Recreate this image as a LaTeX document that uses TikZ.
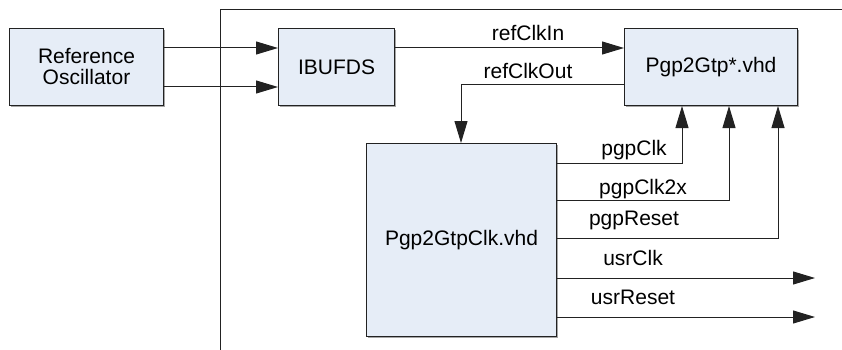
\documentclass[tikz,border=0pt]{standalone}
\usepackage{fontspec}
\setmainfont{Liberation Sans}
\usetikzlibrary{arrows.meta}
\definecolor{boxfill}{HTML}{E6EDF7}
\definecolor{lin}{HTML}{222222}
\begin{document}
\begin{tikzpicture}[x=1pt,y=-1pt,
  blk/.style={draw=lin, fill=boxfill, line width=1pt, inner sep=0pt, anchor=north west,
    font=\fontsize{21}{24}\selectfont, align=center},
  shad/.style={fill=gray!70},
  wire/.style={draw=lin, line width=1pt},
  arr/.style={wire, -{Triangle[length=22pt,width=13pt]}},
  lbl/.style={font=\fontsize{21}{24}\selectfont, inner sep=0pt}]
\useasboundingbox (0,0) rectangle (842,350);
% frame
\draw[wire] (220,350) -- (220,9.5) -- (842,9.5);
% shadows
\fill[shad] (11,30) rectangle (165,107);
\fill[shad] (280,30) rectangle (396,107);
\fill[shad] (626,30) rectangle (799,107);
\fill[shad] (368,145) rectangle (558,338);
% boxes
\node[blk, minimum width=154pt, minimum height=77pt] (osc) at (9,28) {Reference\\[-3pt]Oscillator};
\node[blk, minimum width=116pt, minimum height=77pt] (ibuf) at (278,28) {IBUFDS};
\node[blk, minimum width=173pt, minimum height=77pt] (gtp) at (624,28) {Pgp2Gtp*.vhd};
\node[blk, minimum width=190pt, minimum height=193pt] (clk) at (366,143) {Pgp2GtpClk.vhd};
% osc to ibufds
\draw[arr] (osc.east |- 0,48) -- (ibuf.west |- 0,48);
\draw[arr] (osc.east |- 0,87) -- (ibuf.west |- 0,87);
% refClkIn
\draw[arr] (ibuf.east |- 0,48) -- (gtp.west |- 0,48);
\node[lbl] (l1) at (528,33) {refClkIn};
% refClkOut
\coordinate (c1) at (461,85);
\draw[arr] (gtp.west |- c1) -- (c1) -- (c1 |- clk.north);
\node[lbl] (l2) at (528,71) {refClkOut};
% pgpClk
\coordinate (p1) at (682,163);
\draw[arr] (clk.east |- p1) -- (p1) -- (p1 |- gtp.south);
\node[lbl] (l3) at (634,150) {pgpClk};
\coordinate (p2) at (729,200);
\draw[arr] (clk.east |- p2) -- (p2) -- (p2 |- gtp.south);
\node[lbl] (l4) at (643,189) {pgpClk2x};
\coordinate (p3) at (778,238);
\draw[arr] (clk.east |- p3) -- (p3) -- (p3 |- gtp.south);
\node[lbl] (l5) at (634,220) {pgpReset};
\coordinate (u1) at (815,278);
\draw[arr] (clk.east |- u1) -- (u1);
\node[lbl] (l6) at (633,258) {usrClk};
\coordinate (u2) at (815,317);
\draw[arr] (clk.east |- u2) -- (u2);
\node[lbl] (l7) at (633,297) {usrReset};
\end{tikzpicture}
\end{document}
